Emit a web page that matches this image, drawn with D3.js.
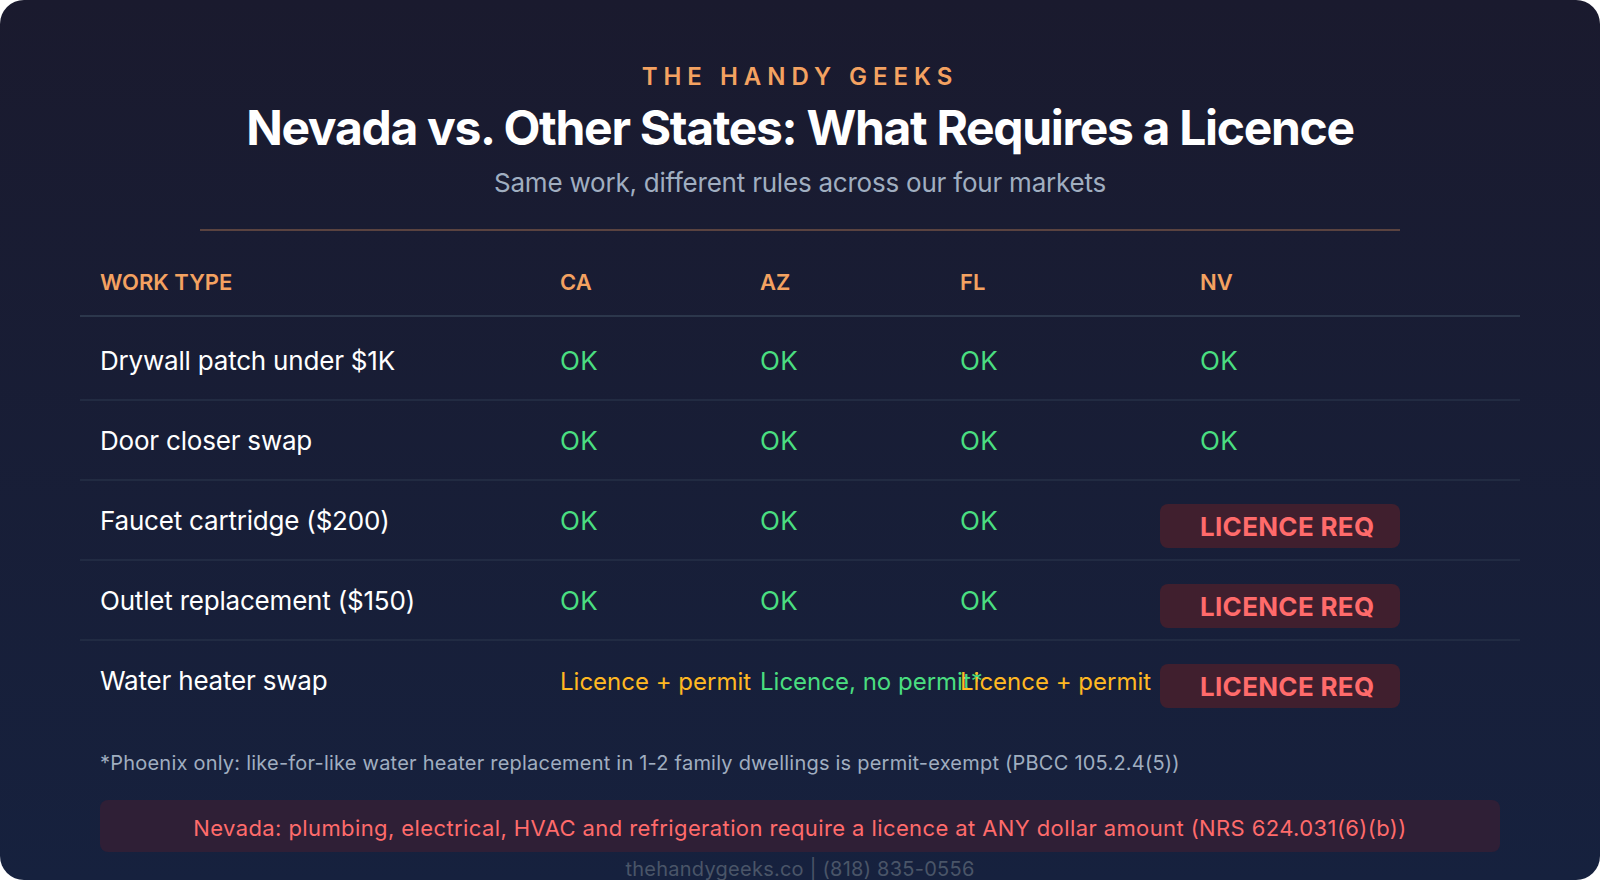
<!DOCTYPE html>
<html>
<head>
<meta charset="utf-8">
<script src="https://cdnjs.cloudflare.com/ajax/libs/d3/7.8.5/d3.min.js"></script>
<style>
html, body { margin: 0; padding: 0; background: #fff; }
svg { display: block; font-family: Inter, sans-serif; }
</style>
</head>
<body>
<svg id="chart" width="1600" height="880"></svg>
<script>
const brand = "THE HANDY GEEKS";
const title = "Nevada vs. Other States: What Requires a Licence";
const subtitle = "Same work, different rules across our four markets";
const columns = ["WORK TYPE", "CA", "AZ", "FL", "NV"];
const workTypes = ["Drywall patch under $1K", "Door closer swap", "Faucet cartridge ($200)", "Outlet replacement ($150)", "Water heater swap"];
const caValues = ["OK", "OK", "OK", "OK", "Licence + permit"];
const azValues = ["OK", "OK", "OK", "OK", "Licence, no permit*"];
const flValues = ["OK", "OK", "OK", "OK", "Licence + permit"];
const nvValues = ["OK", "OK", "LICENCE REQ", "LICENCE REQ", "LICENCE REQ"];
const footnote = "*Phoenix only: like-for-like water heater replacement in 1-2 family dwellings is permit-exempt (PBCC 105.2.4(5))";
const banner = "Nevada: plumbing, electrical, HVAC and refrigeration require a licence at ANY dollar amount (NRS 624.031(6)(b))";
const contact = "thehandygeeks.co | (818) 835-0556";

const svg = d3.select("#chart");
const width = +svg.attr("width");
const height = +svg.attr("height");

// background card
const grad = svg.append("defs").append("linearGradient")
  .attr("id", "bg").attr("x1", 0).attr("y1", 0).attr("x2", 0).attr("y2", 1);
grad.append("stop").attr("offset", "0%").attr("stop-color", "#1a1a2e");
grad.append("stop").attr("offset", "100%").attr("stop-color", "#16213e");
svg.append("rect").attr("width", width).attr("height", height).attr("rx", 24).attr("fill", "url(#bg)");

// scales
const x = d3.scaleOrdinal().domain(columns).range([100, 560, 760, 960, 1200]);
const y = d3.scaleBand().domain(workTypes).range([320, 720]);

const statusColor = d3.scaleOrdinal()
  .domain(["OK", "Licence + permit", "Licence, no permit*", "LICENCE REQ"])
  .range(["#4ade80", "#ffb822", "#4ade80", "#ff6b6b"]);

// heading
svg.append("text").attr("x", width / 2).attr("y", 85).attr("text-anchor", "middle")
  .attr("fill", "#f4a261").attr("font-size", 24).attr("font-weight", 600).attr("letter-spacing", 6)
  .text(brand);
svg.append("text").attr("x", width / 2).attr("y", 145).attr("text-anchor", "middle")
  .attr("fill", "#fff").attr("font-size", 48).attr("font-weight", 700).attr("letter-spacing", -1.3)
  .text(title);
svg.append("text").attr("x", width / 2).attr("y", 192).attr("text-anchor", "middle")
  .attr("fill", "#a0aec0").attr("font-size", 26).attr("letter-spacing", -0.22)
  .text(subtitle);
svg.append("line").attr("x1", 200).attr("x2", 1400).attr("y1", 230).attr("y2", 230)
  .attr("stroke", "#f4a261").attr("stroke-opacity", 0.4).attr("stroke-width", 1.5);

// header row
svg.selectAll("text.head").data(columns).join("text")
  .attr("class", "head")
  .attr("x", d => x(d)).attr("y", 290)
  .attr("fill", "#f4a261").attr("font-size", 22).attr("font-weight", 600)
  .text(d => d);
svg.append("line").attr("x1", 80).attr("x2", 1520).attr("y1", 316).attr("y2", 316)
  .attr("stroke", "#334155").attr("stroke-width", 1.5);

// row separators
svg.selectAll("line.sep").data(workTypes.slice(1)).join("line")
  .attr("class", "sep")
  .attr("x1", 80).attr("x2", 1520)
  .attr("y1", d => y(d)).attr("y2", d => y(d))
  .attr("stroke", "#263047").attr("stroke-width", 1.5);

// row labels
svg.selectAll("text.work").data(workTypes).join("text")
  .attr("class", "work")
  .attr("x", x("WORK TYPE")).attr("y", d => y(d) + 50)
  .attr("fill", "#fff").attr("font-size", 26).attr("font-weight", 400).attr("letter-spacing", -0.2)
  .text(d => d);

// state columns, drawn left to right so FL sits over the long AZ cell
const stateCols = [["CA", caValues], ["AZ", azValues], ["FL", flValues]];
stateCols.forEach(([col, values]) => {
  svg.selectAll("text.c" + col).data(values).join("text")
    .attr("class", "c" + col)
    .attr("x", x(col)).attr("y", (d, i) => y(workTypes[i]) + 50)
    .attr("fill", d => statusColor(d))
    .attr("font-size", d => d === "OK" ? 26 : 24)
    .attr("font-weight", 400)
    .attr("letter-spacing", d => d === "OK" ? 0.4 : 0)
    .text(d => d);
});

// NV column with badges
const nv = nvValues.map((d, i) => ({ v: d, work: workTypes[i] }));
svg.selectAll("rect.badge").data(nv.filter(d => d.v === "LICENCE REQ")).join("rect")
  .attr("class", "badge")
  .attr("x", x("NV") - 40).attr("width", 240)
  .attr("y", d => y(d.work) + 24).attr("height", 44).attr("rx", 8)
  .attr("fill", "#401f2e");
svg.selectAll("text.cNV").data(nv).join("text")
  .attr("class", "cNV")
  .attr("x", x("NV"))
  .attr("y", d => y(d.work) + (d.v === "LICENCE REQ" ? 56 : 50))
  .attr("fill", d => statusColor(d.v)).attr("font-size", 26)
  .attr("font-weight", d => d.v === "LICENCE REQ" ? 700 : 400)
  .attr("letter-spacing", d => d.v === "LICENCE REQ" ? 0.3 : 0.4)
  .text(d => d.v);

// notes
svg.append("text").attr("x", 100).attr("y", 770)
  .attr("fill", "#a0aec0").attr("font-size", 20).attr("letter-spacing", 0.22)
  .text(footnote);
svg.append("rect").attr("x", 100).attr("y", 800).attr("width", 1400).attr("height", 52).attr("rx", 8)
  .attr("fill", "#2f1f36");
svg.append("text").attr("x", width / 2).attr("y", 836).attr("text-anchor", "middle")
  .attr("fill", "#ff6b6b").attr("font-size", 22).attr("font-weight", 400).attr("letter-spacing", 0.4)
  .text(banner);
svg.append("text").attr("x", width / 2).attr("y", 876).attr("text-anchor", "middle")
  .attr("fill", "#4a5568").attr("font-size", 20).attr("letter-spacing", 0.25)
  .text(contact);
</script>
</body>
</html>
